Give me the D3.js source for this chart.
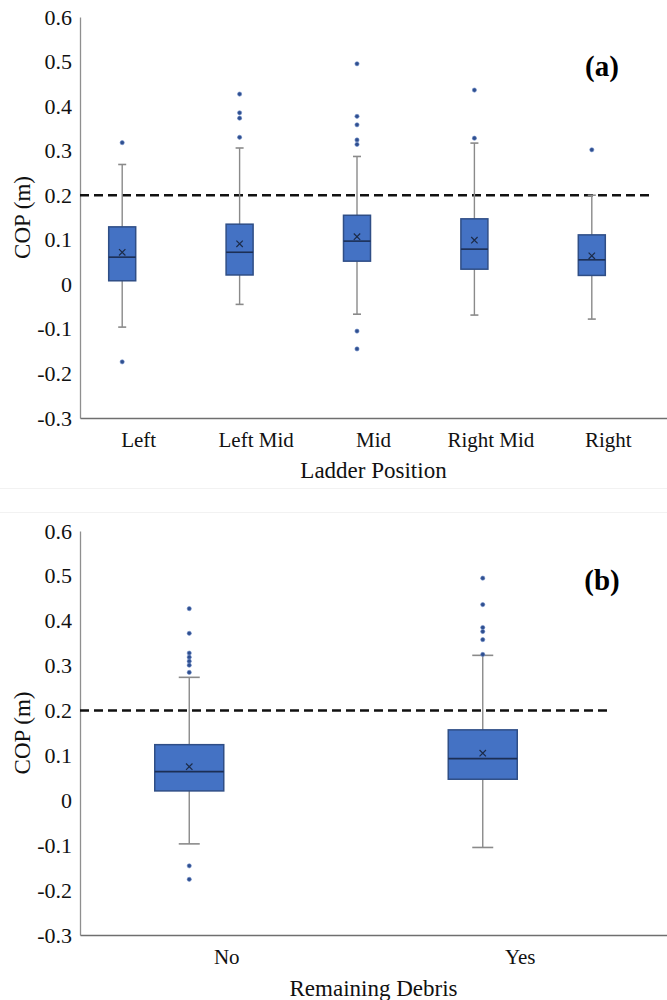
<!DOCTYPE html>
<html>
<head>
<meta charset="utf-8">
<script src="https://cdn.jsdelivr.net/npm/d3@7"></script>
<style>
  html, body { margin: 0; padding: 0; background: #ffffff; }
  svg { display: block; }
  svg text { font-family: "Liberation Serif", "Times New Roman", serif !important; }
</style>
</head>
<body>
<svg id="chart" width="667" height="1000"></svg>
<script>
// ---- Panel (a): COP by ladder position ----
const positions   = ["Left", "Left Mid", "Mid", "Right Mid", "Right"];
const posLow      = [-0.096, -0.045, -0.067, -0.069, -0.078];
const posQ1       = [0.008, 0.021, 0.052, 0.034, 0.020];
const posMedian   = [0.061, 0.072, 0.097, 0.079, 0.055];
const posQ3       = [0.129, 0.135, 0.155, 0.147, 0.111];
const posHigh     = [0.269, 0.306, 0.287, 0.317, 0.200];
const posMean     = [0.072, 0.091, 0.107, 0.099, 0.064];
const posOutliers = [
  [0.318, -0.174],
  [0.427, 0.385, 0.373, 0.330],
  [0.495, 0.377, 0.358, 0.324, 0.314, -0.105, -0.145],
  [0.436, 0.328],
  [0.302]
];

// ---- Panel (b): COP by remaining debris ----
const debris      = ["No", "Yes"];
const debLow      = [-0.097, -0.105];
const debQ1       = [0.021, 0.047];
const debMedian   = [0.064, 0.093];
const debQ3       = [0.124, 0.157];
const debHigh     = [0.274, 0.323];
const debMean     = [0.075, 0.105];
const debOutliers = [
  [0.427, 0.372, 0.328, 0.319, 0.310, 0.301, 0.285, -0.146, -0.176],
  [0.495, 0.436, 0.385, 0.376, 0.358, 0.325]
];

// Shared axis settings
const yTicks    = [-0.3, -0.2, -0.1, 0, 0.1, 0.2, 0.3, 0.4, 0.5, 0.6];
const threshold = 0.2;
const yTitle    = "COP (m)";

const svg = d3.select("#chart");

function buildRows(cats, low, q1, med, q3, high, mean, outl) {
  return cats.map((c, i) => ({
    cat: c, low: low[i], q1: q1[i], median: med[i], q3: q3[i],
    high: high[i], mean: mean[i], outliers: outl[i]
  }));
}

function drawPanel(opt) {
  const g = svg.append("g");
  const y = d3.scaleLinear().domain([-0.3, 0.6]).range([opt.bottom, opt.top]);
  const x = d3.scaleBand().domain(opt.rows.map(d => d.cat)).range([opt.left, opt.right]);
  const cx = d => x(d.cat) + x.bandwidth() / 2 - opt.shift;

  // y axis
  const yAxis = d3.axisLeft(y).tickValues(yTicks).tickSize(0).tickPadding(8)
    .tickFormat(v => v === 0 ? "0" : v.toFixed(1));
  const ya = g.append("g").attr("transform", `translate(${opt.left},0)`).call(yAxis)
    .attr("font-family", null).attr("font-size", null);
  ya.select(".domain").attr("stroke", "#8f8f8f").attr("stroke-width", 1.3);
  ya.selectAll("text").style("font-size", "22px").attr("fill", "#111");

  // x axis
  const xAxis = d3.axisBottom(x).tickSize(0).tickPadding(14);
  const xa = g.append("g").attr("transform", `translate(0,${opt.bottom})`).call(xAxis)
    .attr("font-family", null).attr("font-size", null);
  xa.select(".domain").attr("stroke", "#6f6f6f").attr("stroke-width", 1.3);
  xa.selectAll("text").style("font-size", "21px").attr("fill", "#111");

  // threshold line
  g.append("line")
    .attr("x1", opt.left).attr("x2", opt.dashEnd)
    .attr("y1", y(threshold)).attr("y2", y(threshold))
    .attr("stroke", "#111").attr("stroke-width", 2.6)
    .attr("stroke-dasharray", "9,5");

  const box = g.selectAll(".box").data(opt.rows).join("g").attr("class", "box");

  // whiskers
  box.append("line")
    .attr("x1", cx).attr("x2", cx)
    .attr("y1", d => y(d.high)).attr("y2", d => y(d.low))
    .attr("stroke", "#8a8a8a").attr("stroke-width", 1.4);
  ["high", "low"].forEach(k => {
    box.append("line")
      .attr("x1", d => cx(d) - opt.cap / 2).attr("x2", d => cx(d) + opt.cap / 2)
      .attr("y1", d => y(d[k])).attr("y2", d => y(d[k]))
      .attr("stroke", "#8a8a8a").attr("stroke-width", 1.6);
  });

  // boxes
  box.append("rect")
    .attr("x", d => cx(d) - opt.boxW / 2).attr("width", opt.boxW)
    .attr("y", d => y(d.q3)).attr("height", d => y(d.q1) - y(d.q3))
    .attr("fill", "#4472c4").attr("stroke", "#2f4e86").attr("stroke-width", 1.5);

  // medians
  box.append("line")
    .attr("x1", d => cx(d) - opt.boxW / 2).attr("x2", d => cx(d) + opt.boxW / 2)
    .attr("y1", d => y(d.median)).attr("y2", d => y(d.median))
    .attr("stroke", "#1c2f55").attr("stroke-width", 1.6);

  // means
  const m = 3.2;
  box.append("path")
    .attr("d", d => {
      const px = cx(d), py = y(d.mean);
      return `M${px - m},${py - m}L${px + m},${py + m}M${px - m},${py + m}L${px + m},${py - m}`;
    })
    .attr("stroke", "#1c2b48").attr("stroke-width", 1.2).attr("fill", "none");

  // outliers
  box.each(function (d) {
    d3.select(this).selectAll("circle").data(d.outliers).join("circle")
      .attr("cx", cx(d)).attr("cy", v => y(v)).attr("r", 2.1)
      .attr("fill", "#2f4f8f").attr("stroke", "#6d8cc7").attr("stroke-width", 0.6);
  });

  // axis titles
  g.append("text")
    .attr("transform", `translate(${opt.yTitleX},${(opt.top + opt.bottom) / 2}) rotate(-90)`)
    .attr("text-anchor", "middle").style("font-size", "23px").attr("fill", "#111")
    .text(yTitle);
  g.append("text")
    .attr("x", (opt.left + opt.right) / 2).attr("y", opt.xTitleY)
    .attr("text-anchor", "middle").style("font-size", "23px").attr("fill", "#111")
    .text(opt.xTitle);

  // panel letter
  g.append("text")
    .attr("x", 602).attr("y", opt.top + 59)
    .attr("text-anchor", "middle").style("font-size", "29px").attr("font-weight", "bold")
    .attr("fill", "#000").text(opt.letter);
}

drawPanel({
  rows: buildRows(positions, posLow, posQ1, posMedian, posQ3, posHigh, posMean, posOutliers),
  top: 17, bottom: 418, left: 80, right: 667,
  shift: 16.5, boxW: 27, cap: 8, dashEnd: 651,
  yTitleX: 30, xTitle: "Ladder Position", xTitleY: 478, letter: "(a)"
});

// faint frame edges between the two panels
svg.append("line").attr("x1", 0).attr("x2", 667).attr("y1", 488.5).attr("y2", 488.5)
  .attr("stroke", "#f2f2f2").attr("stroke-width", 1);
svg.append("line").attr("x1", 0).attr("x2", 667).attr("y1", 512.5).attr("y2", 512.5)
  .attr("stroke", "#f2f2f2").attr("stroke-width", 1);

drawPanel({
  rows: buildRows(debris, debLow, debQ1, debMedian, debQ3, debHigh, debMean, debOutliers),
  top: 531, bottom: 935, left: 80, right: 667,
  shift: 37.5, boxW: 69, cap: 21, dashEnd: 612,
  yTitleX: 30, xTitle: "Remaining Debris", xTitleY: 996, letter: "(b)"
});
</script>
</body>
</html>
